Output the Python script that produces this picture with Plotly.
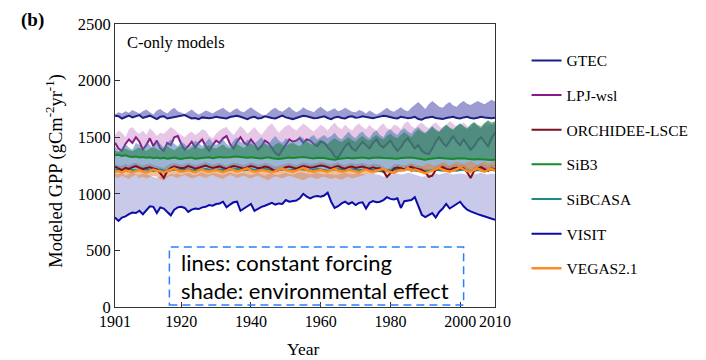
import plotly.graph_objects as go

years = list(range(1901, 2011))

gtec_line = [1690, 1685, 1665, 1680, 1690, 1675, 1685, 1695, 1670, 1680,
             1690, 1675, 1660, 1680, 1685, 1665, 1670, 1675, 1680, 1690,
             1695, 1680, 1665, 1670, 1660, 1675, 1670, 1668, 1672, 1680,
             1675, 1670, 1665, 1678, 1685, 1690, 1680, 1670, 1660, 1675,
             1680, 1665, 1670, 1685, 1675, 1670, 1665, 1680, 1690, 1675,
             1668, 1660, 1670, 1680, 1690, 1685, 1675, 1668, 1670, 1680,
             1685, 1670, 1660, 1675, 1680, 1670, 1665, 1680, 1685, 1672,
             1675, 1685, 1680, 1670, 1668, 1675, 1680, 1690, 1685, 1675,
             1670, 1665, 1680, 1675, 1668, 1672, 1680, 1660, 1655, 1670,
             1675, 1680, 1670, 1665, 1660, 1670, 1675, 1680, 1670, 1665,
             1675, 1680, 1670, 1665, 1672, 1680, 1675, 1670, 1668, 1672]
gtec_env = [1700, 1720, 1710, 1730, 1715, 1740, 1725, 1710, 1730, 1745,
            1720, 1700, 1735, 1750, 1725, 1710, 1740, 1760, 1730, 1715,
            1705, 1725, 1745, 1720, 1700, 1715, 1735, 1725, 1710, 1730,
            1745, 1760, 1735, 1715, 1740, 1755, 1730, 1720, 1745, 1765,
            1740, 1720, 1700, 1690, 1715, 1745, 1760, 1735, 1725, 1750,
            1770, 1740, 1720, 1735, 1765, 1745, 1730, 1720, 1750, 1770,
            1745, 1725, 1740, 1755, 1730, 1740, 1760, 1745, 1725, 1720,
            1740, 1730, 1710, 1735, 1720, 1700, 1715, 1740, 1760, 1735,
            1725, 1745, 1765, 1740, 1730, 1760, 1785, 1810, 1780, 1750,
            1790, 1820, 1795, 1770, 1760, 1790, 1810, 1780, 1770, 1800,
            1820, 1795, 1785, 1800, 1820, 1805, 1790, 1810, 1830, 1815]

lpj_line = [1450, 1400, 1380, 1440, 1480, 1450, 1500, 1460, 1390, 1430,
            1490, 1420, 1470, 1400, 1380, 1450, 1430, 1500, 1510, 1440,
            1390, 1420, 1460, 1410, 1450, 1480, 1420, 1380, 1430, 1470,
            1450, 1490, 1510, 1440, 1400, 1460, 1500, 1450, 1430, 1480,
            1440, 1390, 1420, 1470, 1450, 1400, 1360, 1340, 1390, 1440,
            1480, 1460, 1470, 1490, 1450, 1480, 1470, 1440, 1420, 1460,
            1450, 1410, 1380, 1330, 1320, 1370, 1420, 1450, 1400, 1380,
            1420, 1460, 1430, 1400, 1450, 1480, 1430, 1410, 1440, 1470,
            1420, 1380, 1410, 1460, 1490, 1440, 1400, 1430, 1380, 1360,
            1350, 1400, 1460, 1500, 1450, 1420, 1470, 1510, 1460, 1430,
            1480, 1440, 1390, 1420, 1470, 1500, 1460, 1420, 1490, 1540]
lpj_env = [1520, 1560, 1540, 1500, 1570, 1590, 1550, 1530, 1560, 1520,
           1580, 1550, 1510, 1540, 1530, 1560, 1590, 1570, 1540, 1520,
           1500, 1530, 1550, 1520, 1540, 1570, 1560, 1510, 1490, 1530,
           1560, 1580, 1590, 1550, 1520, 1560, 1600, 1570, 1530, 1560,
           1590, 1550, 1520, 1560, 1600, 1620, 1580, 1540, 1570, 1600,
           1610, 1580, 1560, 1590, 1620, 1600, 1570, 1550, 1580, 1610,
           1590, 1560, 1600, 1630, 1590, 1570, 1610, 1580, 1560, 1600,
           1620, 1590, 1570, 1610, 1580, 1560, 1600, 1620, 1580, 1570,
           1610, 1600, 1570, 1620, 1640, 1600, 1580, 1610, 1630, 1600,
           1580, 1610, 1630, 1600, 1570, 1610, 1640, 1620, 1590, 1610,
           1630, 1600, 1580, 1620, 1600, 1570, 1610, 1590, 1620, 1600]

orch_line = [1240, 1225, 1210, 1230, 1220, 1235, 1245, 1230, 1220, 1228,
             1235, 1225, 1215, 1180, 1140, 1200, 1230, 1240, 1235, 1225,
             1230, 1245, 1235, 1222, 1230, 1240, 1250, 1238, 1228, 1235,
             1242, 1230, 1220, 1235, 1245, 1240, 1230, 1222, 1235, 1245,
             1238, 1225, 1230, 1240, 1235, 1215, 1200, 1210, 1225, 1235,
             1240, 1230, 1222, 1235, 1245, 1240, 1230, 1235, 1242, 1250,
             1245, 1232, 1225, 1238, 1245, 1230, 1222, 1235, 1240, 1228,
             1232, 1240, 1230, 1222, 1235, 1225, 1225, 1200, 1150, 1180,
             1225, 1232, 1225, 1215, 1230, 1238, 1225, 1215, 1210, 1190,
             1150, 1160, 1210, 1225, 1235, 1220, 1210, 1225, 1230, 1220,
             1225, 1190, 1140, 1200, 1225, 1235, 1215, 1200, 1225, 1215]
orch_env = [1260, 1255, 1245, 1265, 1250, 1270, 1275, 1260, 1250, 1262,
            1268, 1255, 1248, 1240, 1230, 1250, 1265, 1272, 1266, 1256,
            1262, 1275, 1266, 1252, 1260, 1270, 1280, 1268, 1258, 1266,
            1272, 1262, 1250, 1266, 1276, 1270, 1262, 1254, 1266, 1276,
            1268, 1256, 1262, 1272, 1266, 1250, 1240, 1248, 1258, 1266,
            1272, 1262, 1254, 1266, 1276, 1272, 1262, 1266, 1274, 1280,
            1276, 1264, 1256, 1270, 1276, 1262, 1254, 1266, 1272, 1260,
            1264, 1272, 1262, 1254, 1266, 1258, 1256, 1240, 1215, 1230,
            1258, 1264, 1256, 1248, 1262, 1270, 1258, 1248, 1242, 1230,
            1210, 1220, 1245, 1258, 1266, 1252, 1244, 1258, 1262, 1252,
            1258, 1232, 1210, 1240, 1258, 1266, 1248, 1236, 1258, 1250]

sib3_line = [1340, 1345, 1335, 1340, 1330, 1325, 1330, 1320, 1325, 1318,
             1322, 1315, 1320, 1312, 1318, 1310, 1315, 1320, 1312, 1308,
             1315, 1318, 1320, 1310, 1312, 1316, 1318, 1322, 1315, 1318,
             1325, 1320, 1318, 1322, 1328, 1330, 1325, 1320, 1318, 1322,
             1320, 1316, 1312, 1318, 1322, 1315, 1310, 1308, 1312, 1318,
             1320, 1316, 1318, 1322, 1325, 1320, 1316, 1312, 1318, 1320,
             1316, 1310, 1305, 1300, 1308, 1312, 1316, 1318, 1312, 1315,
             1318, 1320, 1316, 1312, 1318, 1322, 1320, 1316, 1318, 1315,
             1312, 1310, 1316, 1318, 1322, 1320, 1316, 1312, 1305, 1300,
             1308, 1312, 1316, 1318, 1315, 1312, 1310, 1308, 1312, 1316,
             1314, 1310, 1306, 1304, 1308, 1305, 1302, 1300, 1298, 1300]
sib3_env = [1380, 1370, 1390, 1400, 1385, 1375, 1395, 1410, 1390, 1380,
            1400, 1415, 1395, 1380, 1405, 1420, 1400, 1385, 1410, 1425,
            1400, 1390, 1410, 1420, 1405, 1395, 1415, 1430, 1410, 1400,
            1420, 1435, 1410, 1400, 1425, 1440, 1420, 1405, 1430, 1445,
            1420, 1410, 1430, 1445, 1425, 1410, 1435, 1450, 1430, 1420,
            1440, 1455, 1430, 1420, 1450, 1465, 1440, 1430, 1460, 1480,
            1460, 1440, 1470, 1490, 1470, 1455, 1480, 1500, 1475, 1460,
            1490, 1510, 1485, 1470, 1500, 1520, 1495, 1480, 1510, 1530,
            1505, 1490, 1520, 1545, 1520, 1500, 1540, 1570, 1545, 1530,
            1560, 1590, 1560, 1545, 1580, 1610, 1585, 1570, 1600, 1620,
            1600, 1580, 1610, 1635, 1610, 1595, 1625, 1650, 1630, 1640]

sibcasa_line = [1215, 1210, 1205, 1212, 1218, 1210, 1205, 1208, 1215, 1212,
                1208, 1202, 1210, 1215, 1205, 1200, 1208, 1214, 1210, 1206,
                1212, 1216, 1210, 1205, 1208, 1214, 1218, 1212, 1206, 1210,
                1214, 1210, 1205, 1212, 1216, 1220, 1214, 1208, 1212, 1216,
                1210, 1206, 1212, 1218, 1214, 1208, 1204, 1210, 1216, 1212,
                1208, 1212, 1216, 1220, 1214, 1210, 1206, 1212, 1218, 1214,
                1210, 1204, 1208, 1214, 1218, 1212, 1206, 1210, 1216, 1212,
                1208, 1212, 1218, 1214, 1210, 1205, 1200, 1196, 1204, 1210,
                1214, 1210, 1206, 1212, 1216, 1210, 1205, 1200, 1195, 1200,
                1206, 1210, 1214, 1208, 1204, 1210, 1214, 1208, 1204, 1210,
                1212, 1206, 1200, 1205, 1210, 1206, 1202, 1208, 1212, 1206]
sibcasa_env = [1420, 1380, 1400, 1440, 1410, 1390, 1450, 1430, 1400, 1460,
               1430, 1400, 1470, 1440, 1410, 1450, 1480, 1440, 1420, 1460,
               1440, 1410, 1430, 1470, 1450, 1420, 1460, 1490, 1450, 1430,
               1460, 1480, 1440, 1420, 1470, 1500, 1460, 1440, 1480, 1460,
               1440, 1470, 1500, 1460, 1430, 1480, 1510, 1470, 1450, 1490,
               1470, 1440, 1480, 1510, 1490, 1460, 1500, 1520, 1480, 1500,
               1520, 1490, 1510, 1540, 1500, 1480, 1520, 1550, 1510, 1490,
               1530, 1550, 1510, 1490, 1540, 1560, 1520, 1500, 1550, 1570,
               1540, 1520, 1560, 1580, 1550, 1530, 1570, 1590, 1560, 1540,
               1570, 1600, 1570, 1550, 1590, 1610, 1580, 1560, 1600, 1620,
               1590, 1570, 1610, 1630, 1600, 1580, 1620, 1640, 1610, 1630]

visit_line = [790, 760, 790, 800, 820, 835, 830, 850, 820, 860,
              890, 885, 830, 880, 870, 840, 810, 860, 880, 885,
              875, 840, 860, 870, 865, 880, 885, 900, 895, 910,
              915, 930, 880, 905, 925, 930, 850, 870, 890, 910,
              850, 870, 885, 895, 905, 920, 905, 915, 910, 945,
              930, 935, 940, 960, 1000, 975, 960, 975, 980, 975,
              985, 1010, 930, 875, 890, 915, 930, 910, 925, 900,
              920, 925, 870, 920, 935, 925, 930, 945, 970, 955,
              950, 960, 875, 935, 940, 945, 970, 900, 815, 795,
              810, 830, 790, 840, 870, 910, 870, 890, 910, 930,
              890, 860, 845, 830, 820, 810, 800, 790, 780, 770]
visit_env = [1180, 1170, 1185, 1160, 1175, 1190, 1170, 1165, 1180, 1175,
             1160, 1150, 1140, 1155, 1135, 1160, 1175, 1170, 1180, 1165,
             1175, 1185, 1170, 1165, 1180, 1190, 1175, 1170, 1185, 1180,
             1170, 1165, 1180, 1190, 1175, 1170, 1180, 1185, 1170, 1165,
             1175, 1185, 1170, 1160, 1175, 1180, 1170, 1165, 1180, 1185,
             1175, 1170, 1180, 1190, 1185, 1175, 1170, 1180, 1185, 1175,
             1170, 1180, 1175, 1165, 1170, 1180, 1185, 1175, 1170, 1180,
             1185, 1175, 1170, 1180, 1175, 1170, 1165, 1150, 1160, 1170,
             1175, 1180, 1170, 1175, 1185, 1180, 1170, 1160, 1150, 1155,
             1165, 1175, 1180, 1170, 1175, 1185, 1180, 1170, 1175, 1180,
             1175, 1170, 1160, 1170, 1180, 1185, 1175, 1170, 1180, 1175]

vegas_line = [1195, 1200, 1190, 1205, 1198, 1192, 1200, 1210, 1195, 1188,
              1200, 1215, 1205, 1195, 1190, 1200, 1210, 1225, 1205, 1195,
              1200, 1210, 1198, 1190, 1205, 1215, 1200, 1195, 1205, 1210,
              1200, 1190, 1205, 1220, 1210, 1198, 1205, 1215, 1225, 1205,
              1195, 1200, 1210, 1205, 1195, 1190, 1200, 1215, 1225, 1210,
              1200, 1195, 1205, 1215, 1230, 1210, 1200, 1195, 1205, 1210,
              1200, 1195, 1210, 1220, 1205, 1195, 1200, 1215, 1205, 1198,
              1190, 1205, 1215, 1200, 1195, 1205, 1210, 1220, 1200, 1190,
              1185, 1200, 1210, 1205, 1230, 1200, 1215, 1205, 1190, 1180,
              1195, 1205, 1215, 1230, 1210, 1200, 1195, 1205, 1220, 1230,
              1215, 1200, 1195, 1210, 1225, 1205, 1195, 1210, 1220, 1205]
vegas_env = [1150, 1140, 1160, 1145, 1130, 1155, 1165, 1140, 1150, 1135,
             1145, 1160, 1150, 1130, 1120, 1145, 1160, 1150, 1140, 1155,
             1165, 1150, 1135, 1145, 1160, 1150, 1140, 1155, 1165, 1150,
             1140, 1130, 1150, 1165, 1155, 1140, 1150, 1160, 1145, 1135,
             1150, 1160, 1145, 1130, 1120, 1140, 1155, 1145, 1135, 1150,
             1160, 1150, 1140, 1125, 1120, 1135, 1150, 1140, 1130, 1145,
             1150, 1140, 1130, 1145, 1135, 1125, 1140, 1150, 1135, 1145,
             1155, 1165, 1175, 1180, 1170, 1185, 1200, 1215, 1225, 1215,
             1225, 1240, 1250, 1235, 1245, 1260, 1250, 1235, 1245, 1260,
             1270, 1255, 1245, 1265, 1280, 1270, 1250, 1265, 1285, 1275,
             1260, 1275, 1290, 1270, 1255, 1275, 1285, 1265, 1280, 1290]

models = ["GTEC", "LPJ-wsl", "ORCHIDEE-LSCE", "SiB3", "SiBCASA", "VISIT", "VEGAS2.1"]
lines = {"GTEC": gtec_line, "LPJ-wsl": lpj_line, "ORCHIDEE-LSCE": orch_line,
         "SiB3": sib3_line, "SiBCASA": sibcasa_line, "VISIT": visit_line,
         "VEGAS2.1": vegas_line}
envs = {"GTEC": gtec_env, "LPJ-wsl": lpj_env, "ORCHIDEE-LSCE": orch_env,
        "SiB3": sib3_env, "SiBCASA": sibcasa_env, "VISIT": visit_env,
        "VEGAS2.1": vegas_env}
line_colors = {"GTEC": "#1e1e88", "LPJ-wsl": "#8a1a8a", "ORCHIDEE-LSCE": "#7a0f1e",
               "SiB3": "#168a2a", "SiBCASA": "#1a8a8a", "VISIT": "#0c0ca8",
               "VEGAS2.1": "#ff8a1e"}
shade_colors = {"GTEC": "rgba(90,90,180,0.6)", "LPJ-wsl": "rgba(200,130,200,0.45)",
                "ORCHIDEE-LSCE": "rgba(140,40,40,0.2)", "SiB3": "rgba(40,130,80,0.6)",
                "SiBCASA": "rgba(70,120,175,0.55)", "VISIT": "rgba(120,120,200,0.4)",
                "VEGAS2.1": "rgba(230,130,50,0.5)"}

SERIF = "Times New Roman, Liberation Serif, serif"
fig = go.Figure()


def add_shade(m):
    fig.add_trace(go.Scatter(x=years + years[::-1], y=envs[m] + lines[m][::-1],
                             fill="toself", fillcolor=shade_colors[m], mode="lines",
                             line=dict(width=0), hoverinfo="skip", showlegend=False))


def add_line(m):
    fig.add_trace(go.Scatter(x=years, y=lines[m], mode="lines", name=m,
                             line=dict(color=line_colors[m],
                                       width=2.4 if m == "VEGAS2.1" else 2),
                             legendgroup=m, legendrank=models.index(m) + 1))


add_shade("GTEC"); add_line("GTEC")
add_shade("LPJ-wsl"); add_line("LPJ-wsl")
for m in ["SiBCASA", "SiB3", "ORCHIDEE-LSCE", "VISIT", "VEGAS2.1"]:
    add_shade(m)
for m in ["SiB3", "SiBCASA", "ORCHIDEE-LSCE", "VISIT", "VEGAS2.1"]:
    add_line(m)

fig.add_shape(type="rect", xref="x", yref="y", x0=1916.6, x1=2001, y0=18, y1=530,
              line=dict(color="#2a7fff", width=1.5, dash="8px,5px"))

ann = [
    dict(text="<b>(b)</b>", x=-0.218, y=1.014, size=19, family=SERIF, xa="center"),
    dict(text="C-only models", x=0.026, y=0.936, size=16.5, family=SERIF, xa="left"),
    dict(text="lines: constant forcing", x=0.168, y=0.159, size=22, family="Lato", xa="left"),
    dict(text="shade: environmental effect", x=0.168, y=0.060, size=22, family="Lato", xa="left"),
    dict(text="Year", x=0.494, y=-0.150, size=17.5, family=SERIF, xa="center"),
]
for a in ann:
    fig.add_annotation(text=a["text"], x=a["x"], y=a["y"], xref="paper", yref="paper",
                       xanchor=a["xa"], yanchor="middle", showarrow=False,
                       font=dict(family=a["family"], size=a["size"], color="black"))
fig.add_annotation(text="Modeled GPP (gCm<sup>-2</sup>yr<sup>-1</sup>)", x=-0.159, y=0.48,
                   xref="paper", yref="paper", textangle=-90, showarrow=False,
                   xanchor="center", yanchor="middle",
                   font=dict(family=SERIF, size=18.5, color="black"))

fig.update_layout(
    width=706, height=360, autosize=False,
    margin=dict(l=115, r=206, t=24, b=53),
    paper_bgcolor="white", plot_bgcolor="white",
    legend=dict(x=1.083, y=0.93, xanchor="left", yanchor="top",
                font=dict(family=SERIF, size=15.5, color="black"),
                traceorder="grouped", tracegroupgap=11.5, bgcolor="rgba(0,0,0,0)"),
    xaxis=dict(range=[1901, 2010], tickmode="array",
               tickvals=[1901, 1920, 1940, 1960, 1980, 2000, 2010], tickangle=0,
               ticks="inside", ticklen=5, tickcolor="#333", showgrid=False, zeroline=False,
               showline=True, linecolor="#333", linewidth=1, mirror=True,
               tickfont=dict(family=SERIF, size=16, color="black")),
    yaxis=dict(range=[0, 2500], tickvals=[0, 500, 1000, 1500, 2000, 2500],
               ticks="inside", ticklen=5, tickcolor="#333", showgrid=False, zeroline=False,
               showline=True, linecolor="#333", linewidth=1, mirror=True,
               tickfont=dict(family=SERIF, size=16.5, color="black")),
)

fig.write_html("out.html")
